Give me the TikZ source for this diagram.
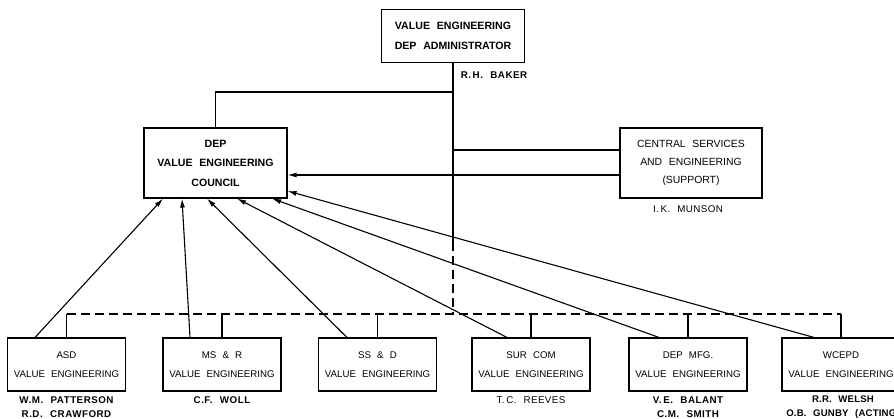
\documentclass[tikz,border=0pt]{standalone}
\usepackage{fontspec}
\setmainfont{Liberation Sans}[WordSpace=2.3]
\usetikzlibrary{arrows.meta}
\begin{document}
\begin{tikzpicture}[x=1pt,y=-1pt,
  orgbox/.style={draw,line width=1.1pt,rectangle,align=center,inner sep=0pt},
  toptext/.style={font=\fontsize{10.6}{19.5}\selectfont\bfseries},
  midtext/.style={font=\fontsize{10.4}{18}\selectfont},
  lowtext/.style={font=\fontsize{9.7}{19}\selectfont},
  bottombox/.style={orgbox,lowtext,minimum width=118pt,minimum height=53pt},
  lbl/.style={align=center,inner sep=0pt,font=\fontsize{9.8}{14.5}\selectfont\addfontfeature{LetterSpace=4}},
  lblb/.style={lbl,font=\fontsize{9.8}{14.5}\selectfont\bfseries\addfontfeature{LetterSpace=5}},
  lblc/.style={lbl,font=\fontsize{9.6}{14.5}\selectfont\bfseries\addfontfeature{LetterSpace=2}},
  conn/.style={line width=1.1pt},
  arr/.style={line width=1.1pt,-{Latex[length=9pt,width=5pt]}},
  busline/.style={line width=1.1pt,dash pattern=on 9pt off 5pt}]
\fill[white] (0,0) rectangle (894,419);
\useasboundingbox (0,0) rectangle (894,419);

% top boxes
\node[orgbox,toptext,minimum width=143pt,minimum height=53pt] (admin) at (453,36) {VALUE ENGINEERING\\DEP ADMINISTRATOR};
\node[lblb] (baker) at (494,75) {R.\,H. BAKER};
\node[orgbox,toptext,minimum width=143pt,minimum height=70pt] (council) at (215.5,163) {DEP\\VALUE ENGINEERING\\COUNCIL};
\node[orgbox,midtext,minimum width=142pt,minimum height=70pt] (central) at (691,163) {CENTRAL SERVICES\\AND ENGINEERING\\(SUPPORT)};
\node[lbl] (munson) at (688,209) {I.\,K. MUNSON};

% bottom boxes
\node[bottombox] (b1) at (66.5,364.5) {ASD\\VALUE ENGINEERING};
\node[bottombox] (b2) at (222,364.5) {MS \& R\\VALUE ENGINEERING};
\node[bottombox] (b3) at (377.5,364.5) {SS \& D\\VALUE ENGINEERING};
\node[bottombox] (b4) at (531,364.5) {SUR COM\\VALUE ENGINEERING};
\node[bottombox] (b5) at (688,364.5) {DEP MFG.\\VALUE ENGINEERING};
\node[bottombox] (b6) at (841,364.5) {WCEPD\\VALUE ENGINEERING};

% names
\node[lblb] (n1) at (66.5,407) {W.M. PATTERSON\\R.D. CRAWFORD};
\node[lblb] (n2) at (222,400) {C.F. WOLL};
\node[lbl] (n4) at (531,400) {T.\,C. REEVES};
\node[lblb] (n5) at (688,407) {V.\,E. BALANT\\C.M. SMITH};
\node[lblc] (n6) at (843,407) {R.R. WELSH\\O.B. GUNBY (ACTING)};

% coordinates
\coordinate (vtop) at (453,92);
\coordinate (vsolid) at (453,242);
\coordinate (vbus) at (453,314);
\coordinate (bus) at (0,314);

% admin trunk
\draw[conn] (admin.south) -- (vsolid);
\draw[busline] (vsolid) -- (vbus);
\draw[conn] (vtop) -| (council.north);

% central services
\draw[conn] ([yshift=13pt]central.west) -- ([yshift=13pt]central.west -| vtop);
\draw[arr] ([yshift=-12pt]central.west) -- ([yshift=-12pt]council.east);

% dashed bus and drops
\draw[busline] (b1.north |- bus) -- (b6.north |- bus);
\foreach \b in {b1,b2,b3,b4,b5,b6}{
  \draw[conn] (\b.north) -- (\b.north |- bus);
}

% arrows to council
\draw[arr] ([xshift=-31.5pt]b1.north) -- ([xshift=-52.5pt]council.south);
\draw[arr] ([xshift=-32pt]b2.north) -- ([xshift=-33.5pt]council.south);
\draw[arr] ([xshift=-30.5pt]b3.north) -- ([xshift=-8.5pt]council.south);
\draw[arr] ([xshift=-24pt]b4.north) -- ([xshift=21.5pt]council.south);
\draw[arr] ([xshift=-29pt]b5.north) -- ([xshift=56.5pt]council.south);
\draw[arr] ([xshift=-27pt]b6.north) -- ([yshift=-28pt]council.east);
\end{tikzpicture}
\end{document}
